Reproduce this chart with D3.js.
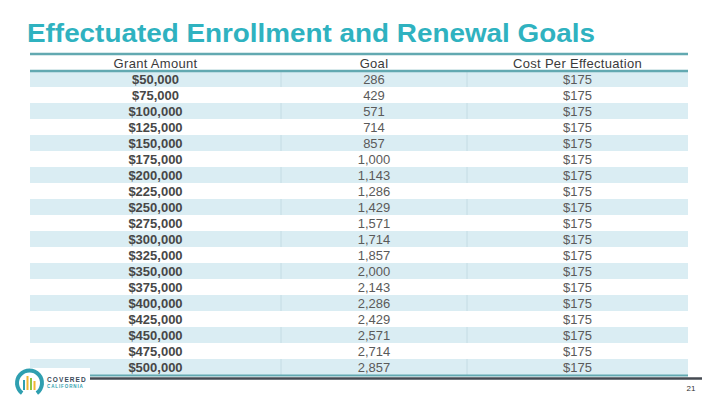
<!DOCTYPE html>
<html><head><meta charset="utf-8">
<script src="https://cdn.jsdelivr.net/npm/d3@7"></script>
<style>body{margin:0;background:#fff;}svg{display:block;font-family:Arial,"Liberation Sans",sans-serif;}</style>
</head><body>
<svg id="chart" width="720" height="405"></svg>
<script>
const title = "Effectuated Enrollment and Renewal Goals";
const headers = ["Grant Amount", "Goal", "Cost Per Effectuation"];
const grantAmounts = ["$50,000","$75,000","$100,000","$125,000","$150,000","$175,000","$200,000","$225,000","$250,000","$275,000","$300,000","$325,000","$350,000","$375,000","$400,000","$425,000","$450,000","$475,000","$500,000"];
const goals = ["286","429","571","714","857","1,000","1,143","1,286","1,429","1,571","1,714","1,857","2,000","2,143","2,286","2,429","2,571","2,714","2,857"];
const costs = ["$175","$175","$175","$175","$175","$175","$175","$175","$175","$175","$175","$175","$175","$175","$175","$175","$175","$175","$175"];
const pageNumber = "21";

(function () {
const svg = d3.select("#chart");
const tLeft = 30, tRight = 688, tTop = 55, rowH = 16;
const rowKeys = ["header"].concat(d3.range(grantAmounts.length));
const y = d3.scaleBand().domain(rowKeys).range([tTop, tTop + rowH * rowKeys.length]).padding(0);
const colEdges = [tLeft, 281, 467, tRight];
const colX = d3.scaleOrdinal().domain([0,1,2]).range([0,1,2].map(i => (colEdges[i] + colEdges[i+1]) / 2));

// Title
svg.append("text").attr("x", 27).attr("y", 42)
  .attr("font-size", 26).attr("font-weight", "bold").attr("fill", "#2fb2c0")
  .attr("textLength", 568).attr("lengthAdjust", "spacingAndGlyphs")
  .text(title);

// shaded rows
const rows = d3.range(grantAmounts.length);
svg.selectAll("rect.shade").data(rows.filter(i => i % 2 === 0)).join("rect")
  .attr("x", tLeft).attr("width", tRight - tLeft)
  .attr("y", d => y(d)).attr("height", y.bandwidth())
  .attr("fill", "#daedf3");

// column separators on shaded rows
rows.filter(i => i % 2 === 0).forEach(i => {
  [1, 2].forEach(c => {
    svg.append("line").attr("x1", colEdges[c]).attr("x2", colEdges[c])
      .attr("y1", y(i)).attr("y2", y(i) + y.bandwidth())
      .attr("stroke", "#c4dce4").attr("stroke-width", 1);
  });
});

// lines
svg.append("line").attr("x1", tLeft).attr("x2", tRight).attr("y1", tTop - 1).attr("y2", tTop - 1)
  .attr("stroke", "#62a9b1").attr("stroke-width", 2.5);
svg.append("line").attr("x1", tLeft).attr("x2", tRight).attr("y1", y(0)).attr("y2", y(0))
  .attr("stroke", "#62a9b1").attr("stroke-width", 2.5);
const bottom = y(rows.length - 1) + y.bandwidth();
svg.append("line").attr("x1", tLeft).attr("x2", tRight).attr("y1", bottom + 0.5).attr("y2", bottom + 0.5)
  .attr("stroke", "#62a9b1").attr("stroke-width", 2);
svg.append("line").attr("x1", 60).attr("x2", 702).attr("y1", bottom + 3.5).attr("y2", bottom + 3.5)
  .attr("stroke", "#454a52").attr("stroke-width", 2.5);

// header text
svg.selectAll("text.hdr").data(headers).join("text")
  .attr("x", (d, i) => colX(i)).attr("y", y("header") + y.bandwidth() / 2 + 4.5)
  .attr("text-anchor", "middle").attr("font-size", 13).attr("fill", "#3a3a3a")
  .attr("letter-spacing", 0.3)
  .text(d => d);

// body text
const cols = [grantAmounts, goals, costs];
cols.forEach((arr, c) => {
  svg.selectAll("text.c" + c).data(arr).join("text")
    .attr("x", colX(c)).attr("y", (d, i) => y(i) + y.bandwidth() / 2 + 4.5)
    .attr("text-anchor", "middle").attr("font-size", 13)
    .attr("font-weight", c === 0 ? "bold" : "normal")
    .attr("fill", c === 0 ? "#474747" : "#5a5a5a")
    .text(d => d);
});

// logo
const logo = svg.append("g");
logo.append("rect").attr("x", 12).attr("y", 368).attr("width", 78).attr("height", 32).attr("fill", "#fff");
const arc = d3.arc().innerRadius(10.5).outerRadius(14.5).startAngle(-Math.PI * 0.8).endAngle(Math.PI * 0.8);
logo.append("path").attr("d", arc()).attr("transform", "translate(29.5,383)").attr("fill", "#2f9fb0");
[["#2f9fb0", 23, 380, 10], ["#f2b632", 26.5, 376, 14], ["#8cc63f", 30, 378, 12], ["#f2b632", 33.5, 381, 9]].forEach(b => {
  logo.append("rect").attr("x", b[1]).attr("y", b[2]).attr("width", 2).attr("height", b[3]).attr("fill", b[0]);
});
logo.append("text").attr("x", 47).attr("y", 381.5).attr("font-size", 6.5).attr("font-weight", "bold")
  .attr("fill", "#3a4a5a").attr("letter-spacing", 1.1).text("COVERED");
logo.append("text").attr("x", 47).attr("y", 387.5).attr("font-size", 4.5).attr("font-weight", "bold")
  .attr("fill", "#2f9fb0").attr("letter-spacing", 0.9).text("CALIFORNIA");

// page number
svg.append("text").attr("x", 691).attr("y", 391).attr("text-anchor", "middle")
  .attr("font-size", 8).attr("fill", "#333").text(pageNumber);
})();
</script>
</body></html>
